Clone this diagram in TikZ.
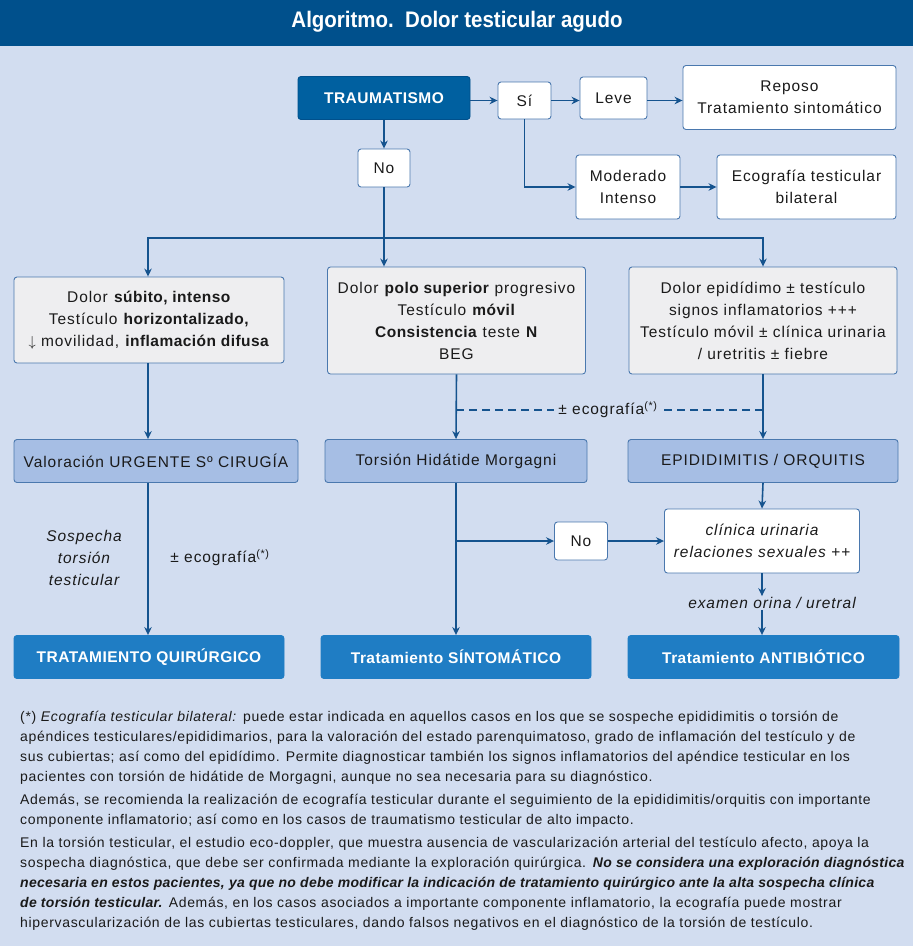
\documentclass[tikz,border=0pt]{standalone}
\usepackage{fontspec}
\setmainfont{Liberation Sans}[LetterSpace=4.8, BoldItalicFeatures={LetterSpace=2}]
\newfontfamily\boxff{Liberation Sans}[LetterSpace=6, BoldFeatures={LetterSpace=3}]
\newfontfamily\titleff{Liberation Sans}[FakeStretch=0.91]
\usetikzlibrary{arrows.meta}
\definecolor{bg}{HTML}{D2DDF0}
\definecolor{titlebg}{HTML}{00508C}
\definecolor{darkbox}{HTML}{0060A0}
\definecolor{linec}{HTML}{15538E}
\definecolor{bordc}{HTML}{4A78AE}
\definecolor{grayfill}{HTML}{EEEEF0}
\definecolor{midfill}{HTML}{A6BEE4}
\definecolor{botfill}{HTML}{1F7DC4}
\definecolor{txt}{HTML}{1A1A1A}
\newcommand{\boxfont}{\boxff\fontsize{15.5}{22}\selectfont}
\newcommand{\notefont}{\fontsize{14}{20}\selectfont}
\tikzset{
  box/.style={draw=bordc, line width=0.9pt, rounded corners=3pt, align=center, inner sep=2pt, font=\boxfont, text=txt},
  whitebox/.style={box, fill=white},
  graybox/.style={box, fill=grayfill},
  midbox/.style={box, fill=midfill},
  darkb/.style={box, fill=darkbox, draw=titlebg, text=white, font=\boxfont\bfseries},
  botbox/.style={box, fill=botfill, draw=botfill, text=white, font=\boxfont\bfseries},
  arr/.style={draw=linec, line width=1.6pt, -{Stealth[length=8pt,width=7.5pt]}},
  plain/.style={draw=linec, line width=1.6pt},
  dashln/.style={draw=linec, line width=1.6pt, dash pattern=on 8pt off 5pt},
  lbl/.style={font=\boxfont, text=txt, align=center, inner sep=1pt},
  note/.style={font=\notefont, text=txt, align=left, anchor=north west, inner sep=0pt},
}
\begin{document}
\begin{tikzpicture}[x=1pt,y=-1pt]
\useasboundingbox (0,0) rectangle (913,946);
\fill[bg] (0,0) rectangle (913,946);
\fill[titlebg] (0,0) rectangle (913,46);
\node[text=white, font=\titleff\fontsize{22.5}{26}\selectfont\bfseries] (title) at (457,22) {Algoritmo.\ \ Dolor testicular agudo};

% top row
\node[darkb, minimum width=172pt, minimum height=43pt] (trauma) at (384,98) {TRAUMATISMO};
\node[whitebox, minimum width=53pt, minimum height=37pt] (si) at (524.5,100.5) {Sí};
\node[whitebox, minimum width=67pt, minimum height=42pt] (leve) at (613.5,98) {Leve};
\node[whitebox, minimum width=213pt, minimum height=64pt] (reposo) at (789.5,97.5) {Reposo\\Tratamiento sintomático};
\node[whitebox, minimum width=52pt, minimum height=38pt] (no1) at (384,168) {No};
\node[whitebox, minimum width=104pt, minimum height=64pt] (moder) at (628,187) {Moderado\\Intenso};
\node[whitebox, minimum width=179pt, minimum height=64pt] (ecotest) at (806.5,187) {Ecografía testicular\\bilateral};

% second row
\node[graybox, minimum width=270pt, minimum height=86pt] (dolor1) at (149,320) {Dolor \textbf{súbito, intenso}\\Testículo \textbf{horizontalizado,}\\$\downarrow$ movilidad, \textbf{inflamación difusa}};
\node[graybox, minimum width=258pt, minimum height=107pt] (dolor2) at (456.5,320.5) {Dolor \textbf{polo superior} progresivo\\Testículo \textbf{móvil}\\\textbf{Consistencia} teste \textbf{N}\\BEG};
\node[graybox, minimum width=268pt, minimum height=107pt] (dolor3) at (763,320.5) {Dolor epidídimo ± testículo\\signos inflamatorios +++\\Testículo móvil ± clínica urinaria\\/ uretritis ± fiebre};

% third row
\node[midbox, minimum width=284pt, minimum height=43pt] (val) at (156,461) {Valoración URGENTE Sº CIRUGÍA};
\node[midbox, minimum width=262pt, minimum height=43pt] (torsion) at (456,461) {Torsión Hidátide Morgagni};
\node[midbox, minimum width=270pt, minimum height=43pt] (epi) at (763,461) {EPIDIDIMITIS / ORQUITIS};

\node[whitebox, minimum width=53pt, minimum height=38pt] (no2) at (581,541) {No};
\node[whitebox, minimum width=195pt, minimum height=64pt, font=\boxfont\itshape] (clin) at (762,541) {clínica urinaria\\relaciones sexuales ++};

% bottom row
\node[botbox, minimum width=270pt, minimum height=43pt] (tq) at (149,657) {TRATAMIENTO QUIRÚRGICO};
\node[botbox, minimum width=270pt, minimum height=43pt] (ts) at (456,657) {Tratamiento SÍNTOMÁTICO};
\node[botbox, minimum width=271pt, minimum height=43pt] (ta) at (763.5,657) {Tratamiento ANTIBIÓTICO};

% labels
\node[lbl, font=\boxfont\itshape] (sosp) at (84,558) {Sospecha\\torsión\\testicular};
\node[lbl] (eco1) at (220,558) {± ecografía\textsuperscript{(*)}};
\node[lbl, font=\boxfont\itshape] (exam) at (772,603) {examen orina / uretral};

% coordinates
\coordinate (c1) at (148,0);
\coordinate (j1) at (384,238);
\coordinate (b2) at (456,541);
\coordinate (dl) at (456,410);
\coordinate (dr) at (763,410);

% connectors top
\draw[arr] (trauma.east |- si) -- (si);
\draw[arr] (si) -- (leve.west |- si);
\draw[arr] (leve.east |- si) -- (reposo.west |- si);
\draw[arr] (si.south) |- (moder.west);
\draw[arr] (moder) -- (ecotest);
\draw[arr] (trauma) -- (no1);
\draw[plain] (no1) -- (j1);
\draw[arr] (j1) -- (dolor2.north -| j1);
\draw[arr] (j1) -| (dolor1.north -| c1);
\draw[arr] (j1) -| (dolor3.north);

% connectors middle
\draw[arr] (dolor1.south -| c1) -- (val.north -| c1);
\draw[arr] (dolor2.south) -- (torsion.north);
\draw[arr] (dolor3.south) -- (epi.north);
\draw[dashln] (dl) -- (dr);
\node[lbl, fill=bg, inner xsep=4pt] (eco2) at (608,410) {± ecografía\textsuperscript{(*)}};

% connectors bottom
\draw[arr] (val.south -| c1) -- (tq.north -| c1);
\draw[arr] (torsion.south) -- (ts.north);
\draw[arr] (b2) -- (no2);
\draw[arr] (no2) -- (clin);
\draw[arr] (epi.south) -- (clin.north);
\draw[arr] (clin.south) -- (exam.north -| clin.south);
\draw[arr] (exam.south -| clin.south) -- (ta.north -| clin.south);

% footnotes
\node[note] (n1) at (20,711) {(*) \textit{Ecografía testicular bilateral:} puede estar indicada en aquellos casos en los que se sospeche epididimitis o torsión de\\
apéndices testiculares/epididimarios, para la valoración del estado parenquimatoso, grado de inflamación del testículo y de\\
sus cubiertas; así como del epidídimo. Permite diagnosticar también los signos inflamatorios del apéndice testicular en los\\
pacientes con torsión de hidátide de Morgagni, aunque no sea necesaria para su diagnóstico.};
\node[note] (n2) at (20,794) {Además, se recomienda la realización de ecografía testicular durante el seguimiento de la epididimitis/orquitis con importante\\
componente inflamatorio; así como en los casos de traumatismo testicular de alto impacto.};
\node[note] (n3) at (20,837) {En la torsión testicular, el estudio eco-doppler, que muestra ausencia de vascularización arterial del testículo afecto, apoya la\\
sospecha diagnóstica, que debe ser confirmada mediante la exploración quirúrgica. \textbf{\textit{No se considera una exploración diagnóstica}}\\
\textbf{\textit{necesaria en estos pacientes, ya que no debe modificar la indicación de tratamiento quirúrgico ante la alta sospecha clínica}}\\
\textbf{\textit{de torsión testicular.}} Además, en los casos asociados a importante componente inflamatorio, la ecografía puede mostrar\\
hipervascularización de las cubiertas testiculares, dando falsos negativos en el diagnóstico de la torsión de testículo.};
\end{tikzpicture}
\end{document}
